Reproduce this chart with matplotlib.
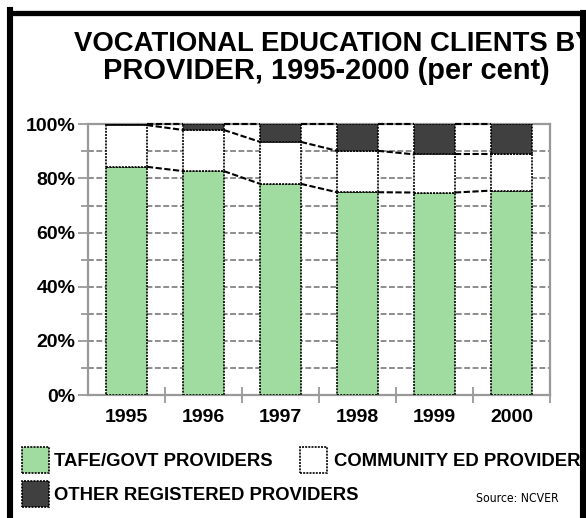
import matplotlib
matplotlib.use("Agg")
import matplotlib.pyplot as plt
from matplotlib.lines import Line2D
from matplotlib.patches import Rectangle
from matplotlib.ticker import MultipleLocator, FuncFormatter
from matplotlib import font_manager
import numpy as np

# ---- data ----
years = ["1995", "1996", "1997", "1998", "1999", "2000"]
tafe = [84.3, 82.7, 78.0, 74.9, 74.8, 75.5]
community = [15.4, 15.2, 15.5, 15.3, 14.1, 13.4]
other = [0.3, 2.1, 6.5, 9.8, 11.1, 11.1]
series_names = ["TAFE/GOVT PROVIDERS", "COMMUNITY ED PROVIDERS", "OTHER REGISTERED PROVIDERS"]
title_lines = ["VOCATIONAL EDUCATION CLIENTS BY", "PROVIDER, 1995-2000 (per cent)"]
source_text = "Source: NCVER"

colors = ["#A0DC9F", "#FFFFFF", "#404040"]
GRID = "#999999"

plt.rcParams["font.family"] = ["Liberation Sans", "DejaVu Sans"]

W, H = 586, 518
fig = plt.figure(figsize=(W / 100, H / 100), dpi=100)
fig.patch.set_facecolor("white")

def fx(px):
    return px / W

def fy(py):
    return 1 - py / H

ax = fig.add_axes([fx(88), fy(395), fx(550) - fx(88), fy(124.3) - fy(395)])

x = np.arange(len(years))
w = 0.53
series = [tafe, community, other]
bottom = np.zeros(len(years))
for vals, col in zip(series, colors):
    ax.bar(x, vals, w, bottom=bottom, color=col, edgecolor="black",
           linewidth=1.2, linestyle=(0, (1.2, 0.7)), zorder=3)
    bottom = bottom + np.array(vals)
    # series lines connecting tops
    for i in range(len(years) - 1):
        ax.plot([x[i] + w / 2, x[i + 1] - w / 2], [bottom[i], bottom[i + 1]],
                color="black", lw=1.5, linestyle=(0, (3, 1.2)), zorder=4,
                solid_capstyle="butt", clip_on=False)

ax.set_xlim(-0.5, len(years) - 0.5)
ax.set_ylim(0, 100)

# gridlines every 10%
ax.yaxis.set_major_locator(MultipleLocator(20))
ax.yaxis.set_minor_locator(MultipleLocator(10))
ax.grid(True, axis="y", which="both", color="#8c8c8c", linestyle=(0, (3, 1.3)), lw=1.4, zorder=1)
ax.set_axisbelow(True)
ax.yaxis.set_major_formatter(FuncFormatter(lambda v, p: f"{int(v)}%"))
ax.tick_params(axis="y", which="major", length=7, width=1.3, color=GRID, direction="out",
               pad=2, labelsize=14)
ax.tick_params(axis="y", which="minor", length=5, width=1.3, color=GRID, direction="out")
for lab in ax.get_yticklabels():
    lab.set_fontweight("bold")

# x: labels at centres, boundary ticks as minor
ax.set_xticks(x)
ax.set_xticklabels(years, fontweight="bold", fontsize=14)
ax.set_xticks(np.arange(len(years)) + 0.5, minor=True)
ax.tick_params(axis="x", which="major", length=0, pad=10)
ax.tick_params(axis="x", which="minor", length=11, width=1.3, color=GRID, direction="inout")

for s in ax.spines.values():
    s.set_color(GRID)
    s.set_linewidth(1.6)

# ---- title ----
fig.text(fx(74), fy(51), title_lines[0], fontsize=19.8, fontweight="bold",
         ha="left", va="baseline")
fig.text(fx(103), fy(79), title_lines[1], fontsize=20.9, fontweight="bold",
         ha="left", va="baseline")

# ---- legend ----
leg_pos = [(22, 447, 54, 461.5), (300, 447, 334, 461.5), (22, 481, 54, 495)]
for (sx, sy, tx, ty), name, col in zip(leg_pos, series_names, colors):
    fig.add_artist(Rectangle((fx(sx), fy(sy + 26)), fx(27), 26 / H,
                             facecolor=col, edgecolor="black", lw=1.2,
                             linestyle=(0, (1.2, 0.7)), transform=fig.transFigure))
    fig.text(fx(tx), fy(ty), name, fontsize=13.3, fontweight="bold",
             ha="left", va="center")

# source note: prefer a condensed face, then fit the reference width (~82 px)
avail = {f.name for f in font_manager.fontManager.ttflist}
cond = [f for f in font_manager.fontManager.ttflist
        if ("Narrow" in f.name or "Condensed" in f.name or
            str(f.stretch) in ("condensed", "semi-condensed", "600", "700"))
        and f.style == "normal" and f.weight in (400, "normal", "regular")]
src_kwargs = {}
if cond:
    src_kwargs["fontproperties"] = font_manager.FontProperties(fname=cond[0].fname, size=11.5)
else:
    src_kwargs["fontsize"] = 11.5
src = fig.text(fx(476), fy(498), source_text, ha="left", va="center", **src_kwargs)
renderer = fig.canvas.get_renderer()
bw = src.get_window_extent(renderer).width
if bw > 0:
    src.set_fontsize(11.5 * 82.0 / bw)

# ---- outer frame ----
fig.add_artist(Line2D([fx(10), fx(10)], [0, fy(10)], color="black", lw=4.4,
                      transform=fig.transFigure, zorder=10, solid_capstyle="projecting"))
fig.add_artist(Line2D([fx(10), 1], [fy(12.5), fy(12.5)], color="black", lw=3.8,
                      transform=fig.transFigure, zorder=10, solid_capstyle="projecting"))
fig.add_artist(Line2D([fx(583), fx(583)], [0, fy(12.5)], color="black", lw=4.4,
                      transform=fig.transFigure, zorder=10, solid_capstyle="projecting"))

fig.savefig("out.png", dpi=100, facecolor="white")
